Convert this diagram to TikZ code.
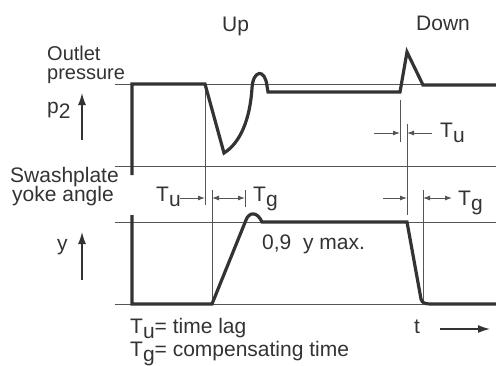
\documentclass[tikz,border=0pt]{standalone}
\usepackage{fontspec}
\setmainfont{Liberation Sans}
\usetikzlibrary{arrows.meta}
\definecolor{ink}{HTML}{333333}
\definecolor{gridc}{HTML}{555555}
\newcommand\lowsub[1]{\raisebox{-0.25em}{#1}}
\begin{document}
\begin{tikzpicture}[x=1pt,y=-1pt,
  lbl/.style={anchor=base west,inner sep=0pt,text=ink,font=\fontsize{21}{21}\selectfont},
  thinline/.style={draw=gridc,line width=0.9pt},
  sig/.style={draw=ink,line width=3.2pt},
  dimarrow/.style={draw=gridc,line width=0.9pt,-{Latex[length=7pt,width=5pt]}},
  ddimarrow/.style={draw=gridc,line width=0.9pt,{Latex[length=7pt,width=5pt]}-{Latex[length=7pt,width=5pt]}},
  axarrow/.style={draw=ink,line width=1.3pt,-{Latex[length=12pt,width=8pt]}}]
\useasboundingbox (0,0) rectangle (496,365);
% grid lines
\draw[thinline] (115,84) -- (496,84);
\draw[thinline] (115,166) -- (496,166);
\draw[thinline] (115,222) -- (496,222);
\draw[thinline] (115,304) -- (496,304);
% vertical markers
\draw[thinline] (205,84) -- (205,205);
\draw[thinline] (212,190) -- (212,304);
\draw[thinline] (245,190) -- (245,207);
\draw[thinline] (400,100) -- (400,142);
\draw[thinline] (407,124) -- (407,215);
\draw[thinline] (423,190) -- (423,304);
% pressure signal
\draw[sig] (132,175) -- (132,84) -- (205,84) -- (224,153)
  .. controls (240,143) and (250,120) .. (252,88)
  .. controls (253,70) and (265,68) .. (267,86) -- (268,92) -- (400,92)
  -- (407,52) -- (423,85) -- (496,85);
% yoke angle signal
\draw[sig] (132,215) -- (132,304) -- (212,304) -- (246,220)
  .. controls (249,212) and (257,211) .. (262,222) -- (407,222)
  -- (421,299) .. controls (422,303) and (425,304) .. (431,304) -- (496,304);
% dimension arrows
\coordinate (a1) at (180,198); \coordinate (a2) at (205,198);
\coordinate (b1) at (212,198); \coordinate (b2) at (245,198);
\coordinate (c1) at (374,133); \coordinate (c2) at (400,133);
\coordinate (d1) at (432,133); \coordinate (d2) at (407,133);
\coordinate (e1) at (383,198); \coordinate (e2) at (407,198);
\coordinate (f1) at (423,198); \coordinate (f2) at (452,198);
\draw[dimarrow] (a1) -- (a2);
\draw[ddimarrow] (b1) -- (b2);
\draw[dimarrow] (c1) -- (c2);
\draw[dimarrow] (d1) -- (d2);
\draw[dimarrow] (e1) -- (e2);
\draw[ddimarrow] (f1) -- (f2);
% axis arrows
\coordinate (p0) at (82,140); \coordinate (p1) at (82,93);
\coordinate (y0) at (82,280); \coordinate (y1) at (82,232);
\coordinate (t0) at (440,329); \coordinate (t1) at (490,329);
\draw[axarrow] (p0) -- (p1);
\draw[axarrow] (y0) -- (y1);
\draw[axarrow] (t0) -- (t1);
% labels
\node[lbl] (up) at (222,31) {Up};
\node[lbl] (down) at (416,30) {Down};
\node[lbl,font=\fontsize{20}{20}\selectfont] (outlet) at (47,60) {Outlet};
\node[lbl,font=\fontsize{20}{20}\selectfont] (press) at (47,79) {pressure};
\node[lbl] (p2) at (47,113) {p\lowsub{2}};
\node[lbl] (swash) at (10,182) {Swashplate};
\node[lbl] (yoke) at (12,201) {yoke angle};
\node[lbl] (ylab) at (57,250) {y};
\node[lbl] (ymax) at (262,249) {0,9\ \ y max.};
\node[lbl] (tlab) at (414,333) {t};
\node[lbl] (tu1) at (156,201) {T\lowsub{u}};
\node[lbl] (tg1) at (253,201) {T\lowsub{g}};
\node[lbl] (tu2) at (440,137) {T\lowsub{u}};
\node[lbl] (tg2) at (458,205) {T\lowsub{g}};
\node[lbl] (leg1) at (130,333) {T\lowsub{u}= time lag};
\node[lbl] (leg2) at (130,356) {T\lowsub{g}= compensating time};
\end{tikzpicture}
\end{document}
